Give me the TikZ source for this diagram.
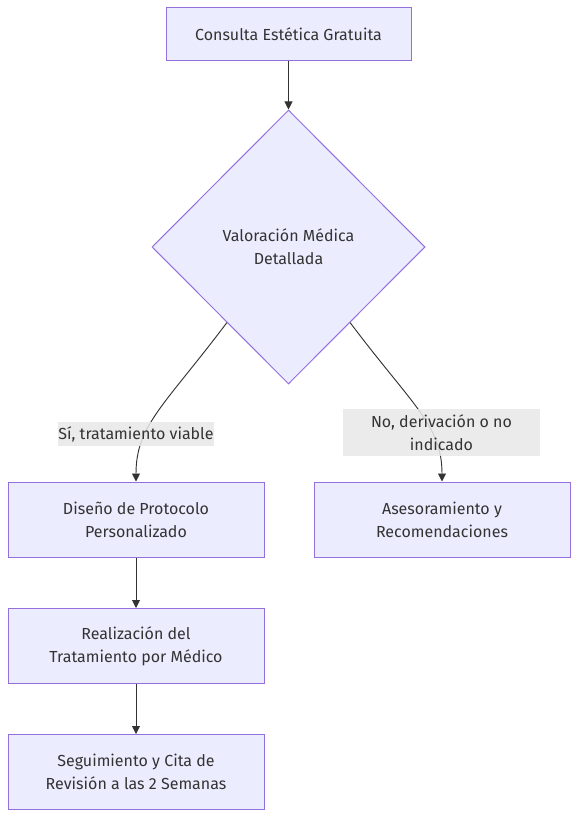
\documentclass[tikz,border=0pt]{standalone}
\usepackage{fontspec}
\setmainfont{Fira Sans}
\usetikzlibrary{shapes.geometric,calc,arrows.meta}
\definecolor{nodefill}{HTML}{ECECFF}
\definecolor{nodeline}{HTML}{9370DB}
\definecolor{txt}{HTML}{333333}
\definecolor{lblbg}{HTML}{E8E8E8}
\begin{document}
\begin{tikzpicture}[x=0.75pt,y=-0.75pt,
  every node/.style={font=\fontsize{12}{17.25}\selectfont, text=txt},
  box/.style={draw=nodeline, fill=nodefill, line width=0.75pt, align=center, inner sep=0pt, minimum width=192pt, minimum height=56.25pt},
  decision/.style={diamond, draw=nodeline, fill=nodefill, line width=0.75pt, align=center, inner sep=0pt, minimum width=204.75pt, minimum height=205.5pt},
  edgelabel/.style={fill=lblbg, fill opacity=0.85, text opacity=1, align=center, inner sep=0pt},
  conn/.style={draw=txt, line width=0.7pt, -{Triangle[length=6pt,width=6pt]}}
]
\useasboundingbox (0,0) rectangle (586,830);
\node[box, minimum width=183.75pt, minimum height=39.75pt] (a) at (288.5,34.5) {Consulta Estética Gratuita};
\node[decision] (b) at (288.5,247) {Valoración Médica\\Detallada};
\node[box] (c) at (136,519.5) {Diseño de Protocolo\\Personalizado};
\node[box] (d) at (442,519.5) {Asesoramiento y\\Recomendaciones};
\node[box] (e) at (136,646) {Realización del\\Tratamiento por Médico};
\node[box] (f) at (136,772) {Seguimiento y Cita de\\Revisión a las 2 Semanas};

\coordinate (bl) at ($(b.south)!0.45!(b.west)$);
\coordinate (br) at ($(b.south)!0.45!(b.east)$);

\draw[conn] (a) -- (b);
\draw[conn] (bl) .. controls (165,405) and (136,425) .. (c.north);
\draw[conn] (br) .. controls (412,405) and (442,425) .. (d.north);
\draw[conn] (c) -- (e);
\draw[conn] (e) -- (f);

\node[edgelabel, minimum width=115.5pt, minimum height=18pt] (l1) at (136,434) {Sí, tratamiento viable};
\node[edgelabel, minimum width=147.75pt, minimum height=35.25pt] (l2) at (441.5,432.5) {No, derivación o no\\indicado};
\end{tikzpicture}
\end{document}
